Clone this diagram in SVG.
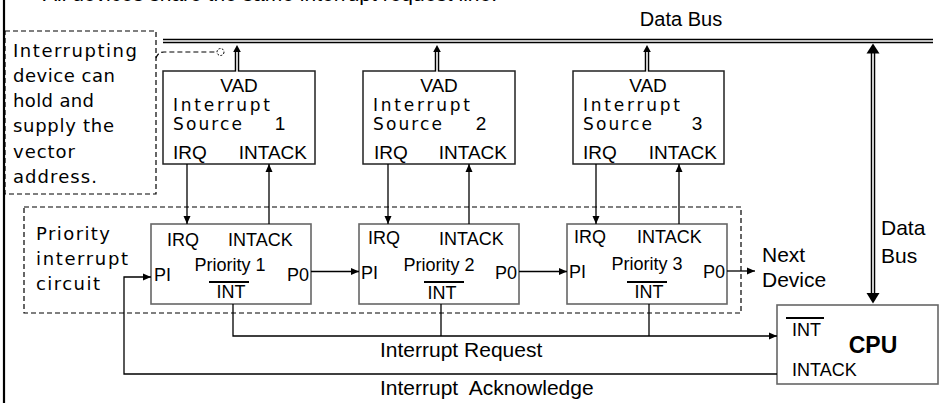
<svg xmlns="http://www.w3.org/2000/svg" width="939" height="403" viewBox="0 0 939 403">
<defs>
<style>
.a{font-family:"Liberation Sans",Arial,sans-serif;fill:#000}
.c{font-family:"Comic Sans MS","DejaVu Sans",sans-serif;fill:#000}
.ln{fill:none;stroke:#000;stroke-width:1.3}
.dash{fill:none;stroke:#000;stroke-width:1.2;stroke-dasharray:5,3}
.vad{fill:#fff;stroke:#222;stroke-width:1.5}
.pri{fill:#fff;stroke:#666;stroke-width:1.6}
.bar{stroke:#000;stroke-width:1.8}
.dbo{stroke:#000;stroke-width:4.5;fill:none}
.dbi{stroke:#fff;stroke-width:1.6;fill:none}
</style>
<marker id="arr" markerUnits="userSpaceOnUse" markerWidth="9" markerHeight="8" refX="8" refY="4" orient="auto">
<path d="M0,0.5 L8,4 L0,7.5 z" fill="#000"/>
</marker>
</defs>
<rect width="939" height="403" fill="#fff"/>
<line x1="4" y1="0" x2="4" y2="403" stroke="#000" stroke-width="2.2"/>
<text class="a" x="43" y="0.5" font-size="21">All devices share the same interrupt request line.</text>

<g id="databus">
<line class="dbo" x1="163" y1="41" x2="933" y2="41"/>
<line class="dbi" x1="163" y1="41" x2="933" y2="41"/>
<text class="a" x="681" y="26" font-size="20" text-anchor="middle">Data Bus</text>
</g>

<g id="note">
<rect class="dash" x="5" y="31" width="151" height="163"/>
<text class="c" font-size="18"><tspan x="13" y="57" textLength="124" lengthAdjust="spacing">Interrupting</tspan><tspan x="13" y="82" textLength="102" lengthAdjust="spacing">device can</tspan><tspan x="13" y="107" textLength="81" lengthAdjust="spacing">hold and</tspan><tspan x="13" y="132" textLength="101" lengthAdjust="spacing">supply the</tspan><tspan x="13" y="158" textLength="62" lengthAdjust="spacing">vector</tspan><tspan x="13" y="183" textLength="84" lengthAdjust="spacing">address.</tspan></text>
</g>

<g id="vad1">
<rect class="vad" x="163" y="71" width="152" height="93"/>
<text class="a" x="239" y="92" font-size="19" text-anchor="middle">VAD</text>
<text class="c" x="173" y="111" font-size="17" textLength="97" lengthAdjust="spacing">Interrupt</text>
<text class="c" x="173" y="130" font-size="17" textLength="69" lengthAdjust="spacing">Source</text>
<text class="a" x="280" y="130" font-size="19" text-anchor="middle">1</text>
<text class="a" x="173" y="159" font-size="19">IRQ</text>
<text class="a" x="307" y="159" font-size="19" text-anchor="end">INTACK</text>
</g>
<g id="vad2">
<rect class="vad" x="363" y="71" width="152" height="93"/>
<text class="a" x="439" y="92" font-size="19" text-anchor="middle">VAD</text>
<text class="c" x="373" y="111" font-size="17" textLength="97" lengthAdjust="spacing">Interrupt</text>
<text class="c" x="373" y="130" font-size="17" textLength="69" lengthAdjust="spacing">Source</text>
<text class="a" x="481" y="130" font-size="19" text-anchor="middle">2</text>
<text class="a" x="374" y="159" font-size="19">IRQ</text>
<text class="a" x="507" y="159" font-size="19" text-anchor="end">INTACK</text>
</g>
<g id="vad3">
<rect class="vad" x="573" y="71" width="151" height="93"/>
<text class="a" x="648" y="92" font-size="19" text-anchor="middle">VAD</text>
<text class="c" x="583" y="111" font-size="17" textLength="97" lengthAdjust="spacing">Interrupt</text>
<text class="c" x="583" y="130" font-size="17" textLength="69" lengthAdjust="spacing">Source</text>
<text class="a" x="697" y="130" font-size="19" text-anchor="middle">3</text>
<text class="a" x="583" y="159" font-size="19">IRQ</text>
<text class="a" x="717" y="159" font-size="19" text-anchor="end">INTACK</text>
</g>

<g id="circuit">
<rect class="dash" x="24" y="207" width="717" height="106"/>
<text class="c" font-size="18"><tspan x="36" y="240" textLength="74" lengthAdjust="spacing">Priority</tspan><tspan x="36" y="265" textLength="92" lengthAdjust="spacing">interrupt</tspan><tspan x="36" y="290" textLength="64" lengthAdjust="spacing">circuit</tspan></text>
</g>

<g id="pri1">
<rect class="pri" x="151" y="224" width="160" height="80"/>
<text class="a" x="167" y="246" font-size="18">IRQ</text>
<text class="a" x="228" y="246" font-size="18">INTACK</text>
<text class="a" x="230" y="271" font-size="18" text-anchor="middle">Priority 1</text>
<text class="a" x="154" y="281" font-size="18">PI</text>
<text class="a" x="309" y="281" font-size="18" text-anchor="end">P0</text>
<line class="bar" x1="209" y1="282" x2="249" y2="282"/>
<text class="a" x="231" y="298" font-size="18" text-anchor="middle">INT</text>
</g>
<g id="pri2">
<rect class="pri" x="359" y="224" width="160" height="80"/>
<text class="a" x="368" y="244" font-size="18">IRQ</text>
<text class="a" x="439" y="245" font-size="18">INTACK</text>
<text class="a" x="439" y="271" font-size="18" text-anchor="middle">Priority 2</text>
<text class="a" x="361" y="279" font-size="18">PI</text>
<text class="a" x="517" y="279" font-size="18" text-anchor="end">P0</text>
<line class="bar" x1="424" y1="282" x2="464" y2="282"/>
<text class="a" x="442" y="299" font-size="18" text-anchor="middle">INT</text>
</g>
<g id="pri3">
<rect class="pri" x="567" y="224" width="160" height="80"/>
<text class="a" x="574" y="243" font-size="18">IRQ</text>
<text class="a" x="637" y="243" font-size="18">INTACK</text>
<text class="a" x="647" y="270" font-size="18" text-anchor="middle">Priority 3</text>
<text class="a" x="569" y="278" font-size="18">PI</text>
<text class="a" x="725" y="278" font-size="18" text-anchor="end">P0</text>
<line class="bar" x1="627" y1="282" x2="667" y2="282"/>
<text class="a" x="649" y="298" font-size="18" text-anchor="middle">INT</text>
</g>

<g id="cpu">
<rect class="pri" x="777" y="305" width="161" height="79"/>
<line class="bar" x1="786" y1="318" x2="824" y2="318"/>
<text class="a" x="792" y="336" font-size="18">INT</text>
<text class="a" x="873" y="353" font-size="23" font-weight="bold" text-anchor="middle">CPU</text>
<text class="a" x="792" y="376" font-size="18">INTACK</text>
</g>

<g id="labels">
<text class="a" font-size="21"><tspan x="762" y="262">Next</tspan><tspan x="762" y="287">Device</tspan></text>
<text class="a" font-size="21"><tspan x="881" y="235">Data</tspan><tspan x="881" y="263">Bus</tspan></text>
<text class="a" x="380" y="357" font-size="21">Interrupt Request</text>
<text class="a" x="380" y="395" font-size="21" style="white-space:pre">Interrupt  Acknowledge</text>
</g>

<g id="connectors">
<line class="dbo" x1="237" y1="71" x2="237" y2="51" stroke-width="4"/>
<line class="dbi" x1="237" y1="72" x2="237" y2="51" stroke-width="1.4"/>
<path d="M233.2,52 L237,45 L240.8,52 z" fill="#000"/>
<line class="dbo" x1="437" y1="71" x2="437" y2="51" stroke-width="4"/>
<line class="dbi" x1="437" y1="72" x2="437" y2="51" stroke-width="1.4"/>
<path d="M433.2,52 L437,45 L440.8,52 z" fill="#000"/>
<line class="dbo" x1="647" y1="71" x2="647" y2="51" stroke-width="4"/>
<line class="dbi" x1="647" y1="72" x2="647" y2="51" stroke-width="1.4"/>
<path d="M643.2,52 L647,45 L650.8,52 z" fill="#000"/>
<line class="dbo" x1="873" y1="52" x2="873" y2="294" stroke-width="5"/>
<line class="dbi" x1="873" y1="52" x2="873" y2="294" stroke-width="1.8"/>
<path d="M866.5,53.5 L873,43.5 L879.5,53.5 z" fill="#000"/>
<path d="M866.5,293 L873,303.5 L879.5,293 z" fill="#000"/>
<path class="dash" d="M156,58 Q158,52 164,52 L216,52"/>
<circle cx="220.5" cy="52" r="3.5" fill="#fff" stroke="#000" stroke-width="1" stroke-dasharray="2,1.5"/>
<line class="ln" x1="187" y1="164" x2="187" y2="224" marker-end="url(#arr)"/>
<line class="ln" x1="269" y1="224" x2="269" y2="164" marker-end="url(#arr)"/>
<line class="ln" x1="388" y1="164" x2="388" y2="224" marker-end="url(#arr)"/>
<line class="ln" x1="469" y1="224" x2="469" y2="164" marker-end="url(#arr)"/>
<line class="ln" x1="596" y1="164" x2="596" y2="224" marker-end="url(#arr)"/>
<line class="ln" x1="679" y1="224" x2="679" y2="164" marker-end="url(#arr)"/>
<line class="ln" x1="311" y1="271.5" x2="359" y2="271.5" marker-end="url(#arr)"/>
<line class="ln" x1="519" y1="271.5" x2="567" y2="271.5" marker-end="url(#arr)"/>
<line class="ln" x1="727" y1="271" x2="755" y2="271" marker-end="url(#arr)"/>
<path class="ln" d="M233,304 V336 H777" marker-end="url(#arr)"/>
<path class="ln" d="M441,304 V336"/>
<path class="ln" d="M649,304 V336"/>
<path class="ln" d="M777,374 H124 V277 H151" marker-end="url(#arr)"/>
</g>
</svg>
